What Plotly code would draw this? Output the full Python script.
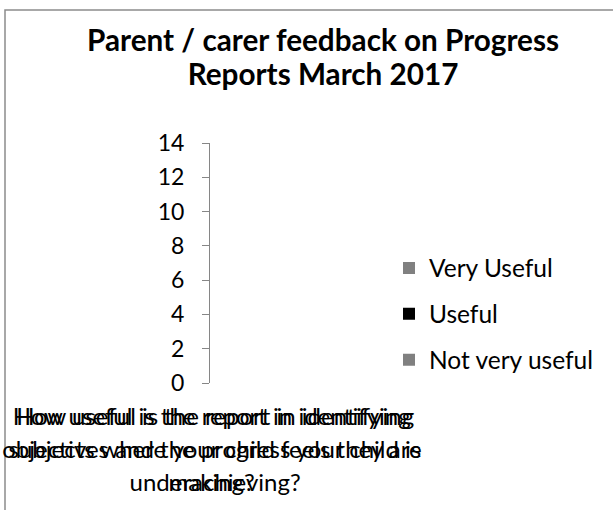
import plotly.graph_objects as go

categories = [
    "How useful is the report in identifying<br>objectives and the progress your child is<br>making?",
    "How useful is the report in identifying<br>subjects where your child feels they are<br>underachieving?",
]
series_names = ["Very Useful", "Useful", "Not very useful"]
very_useful = [0, 0]
useful = [0, 0]
not_very_useful = [0, 0]
y_ticks = [0, 2, 4, 6, 8, 10, 12, 14]

series_values = [very_useful, useful, not_very_useful]
fills = ["#808080", "#000000", "#808080"]

FONT = "Lato"
W, H = 613, 510
PL, PR, PT, PB = 210, 222, 143, 383  # plot area pixel box


def span(txt, size):
    return "<br>".join(f"<span style='font-size:{size}px'>{ln}</span>" for ln in txt.split("<br>"))


fig = go.Figure()
for name, vals, fc in zip(series_names, series_values, fills):
    fig.add_trace(go.Bar(
        x=[span(c, 24) for c in categories], y=vals, name=name, legendgroup=name,
        marker=dict(color=fc, line=dict(width=0)),
    ))

pw = PR - PL
ph = PB - PT


def px(x):
    return (x - PL) / pw


def py(y):
    return (PB - y) / ph


fig.update_layout(
    width=W, height=H,
    autosize=False,
    margin=dict(l=PL, r=W - PR, t=PT, b=H - PB, pad=0, autoexpand=False),
    paper_bgcolor="white", plot_bgcolor="white",
    font=dict(family=FONT, color="#000000"),
    title=dict(
        text=span("<b>Parent / carer feedback on Progress</b><br><b>Reports March 2017</b>", 29.7),
        font=dict(family=FONT, size=26, color="#000000"),
        x=0.527, xref="container", xanchor="center",
        y=1 - 51 / H, yref="container", yanchor="top",
    ),
    barmode="group",
    xaxis=dict(
        type="category", tickmode="linear", tick0=0, dtick=1,
        range=[-0.5, 3.0],
        tickangle=0, showgrid=False, showline=False,
        ticks="", tickfont=dict(family=FONT, size=25.5, color="#000000"),
        ticklabelstandoff=15, automargin=False,
    ),
    yaxis=dict(
        range=[0, 14], tickvals=y_ticks, ticktext=[str(v) for v in y_ticks],
        showgrid=False, zeroline=False, showline=True, linecolor="#868686", linewidth=1,
        ticks="outside", ticklen=7, tickcolor="#868686",
        tickfont=dict(family=FONT, size=23, color="#000000"),
        ticklabelstandoff=13, automargin=False,
    ),
    legend=dict(
        xref="container", yref="container", x=389 / W, y=1 - 314 / H,
        xanchor="left", yanchor="middle",
        font=dict(family=FONT, size=24.5, color="#000000"),
        tracegroupgap=11, bgcolor="rgba(0,0,0,0)",
    ),
    showlegend=True,
    shapes=[dict(
        type="rect", xref="paper", yref="paper",
        x0=px(5), x1=px(640), y0=py(540), y1=py(10),
        line=dict(color="#8c8c8c", width=1.5), fillcolor="rgba(0,0,0,0)", layer="below",
    )],
)

fig.write_html("out.html", config={"displayModeBar": False},
               post_script="document.body.style.margin='0';")
